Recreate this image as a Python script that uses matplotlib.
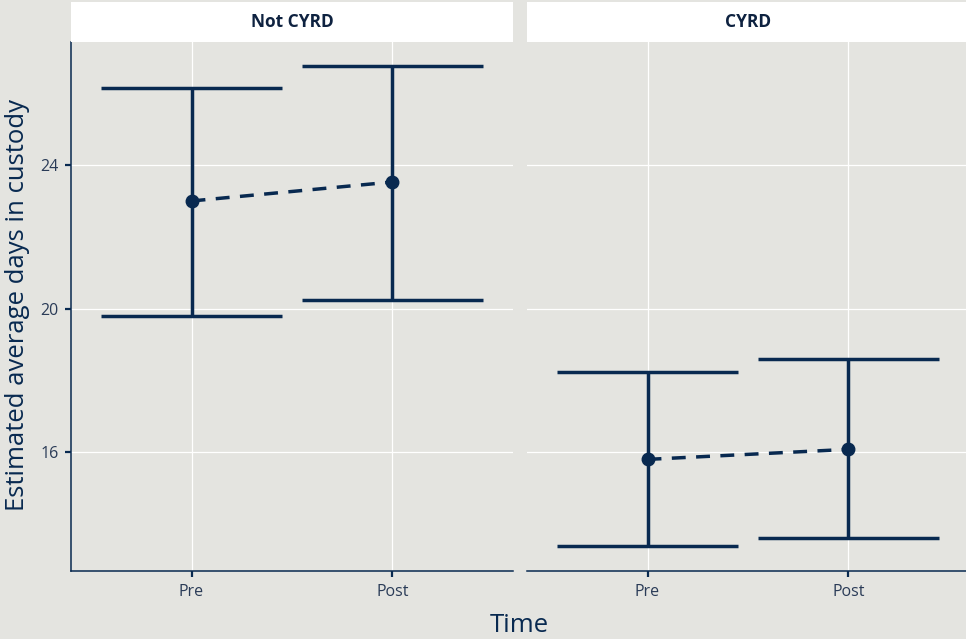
import matplotlib.pyplot as plt
from matplotlib.patches import Rectangle

# Estimated means with 95% intervals, by group and period
groups = ["Not CYRD", "CYRD"]
times = ["Pre", "Post"]
estimate = {"Not CYRD": [23.0, 23.53], "CYRD": [15.8, 16.08]}
lower = {"Not CYRD": [19.8, 20.25], "CYRD": [13.38, 13.6]}
upper = {"Not CYRD": [26.14, 26.76], "CYRD": [18.23, 18.59]}
yticks = [16, 20, 24]

navy = "#082950"
text_col = "#2A3B57"
panel_bg = "#E4E4E0"

plt.rcParams["font.family"] = ["Open Sans", "DejaVu Sans"]

fig = plt.figure(figsize=(9.66, 6.39), dpi=100)
fig.patch.set_facecolor(panel_bg)

W, H = 966, 639
panel_x = [71, 527]
panel_w = 442
top, bottom = 42, 571

for i, g in enumerate(groups):
    ax = fig.add_axes([panel_x[i] / W, (H - bottom) / H, panel_w / W, (bottom - top) / H])
    ax.set_facecolor(panel_bg)
    x = list(range(len(times)))

    # error bars with wide caps
    for xi, lo, hi in zip(x, lower[g], upper[g]):
        ax.plot([xi, xi], [lo, hi], color=navy, lw=2.5, solid_capstyle="butt", zorder=3)
        for yv in (lo, hi):
            ax.plot([xi - 0.45, xi + 0.45], [yv, yv], color=navy, lw=2.5,
                    solid_capstyle="butt", zorder=3)
    ax.plot(x, estimate[g], color=navy, lw=2.5, ls=(0, (4, 3)), zorder=3)
    ax.plot(x, estimate[g], "o", color=navy, ms=9, zorder=4)

    ax.set_xlim(-0.6, 1.6)
    ax.set_ylim(12.69, 27.43)
    ax.set_xticks(x)
    ax.set_xticklabels(times)
    ax.set_yticks(yticks)
    ax.grid(True, color="white", lw=0.9)
    ax.set_axisbelow(True)
    for s in ["top", "right"]:
        ax.spines[s].set_visible(False)
    ax.spines["bottom"].set_color(navy)
    ax.spines["bottom"].set_linewidth(1.1)
    ax.tick_params(axis="both", colors=navy, labelcolor=text_col, labelsize=11.5,
                   length=4, width=1.6, pad=5)
    if i == 0:
        ax.spines["left"].set_color(navy)
        ax.spines["left"].set_linewidth(1.1)
    else:
        ax.spines["left"].set_visible(False)
        ax.tick_params(axis="y", left=False, labelleft=False)

    # facet strip
    fig.patches.append(Rectangle((panel_x[i] / W, (H - top) / H), panel_w / W, 40 / H,
                                 transform=fig.transFigure, facecolor="white",
                                 edgecolor="none"))
    fig.text((panel_x[i] + panel_w / 2) / W, (H - 22) / H, g, ha="center", va="center",
             fontsize=12.5, fontweight="bold", color="#0E2240")

fig.text(18 / W, (H - 305) / H, "Estimated average days in custody", rotation=90,
         ha="center", va="center", fontsize=18.5, color=navy)
fig.text(519 / W, (H - 626) / H, "Time", ha="center", va="center", fontsize=18.5,
         color=navy)

fig.savefig("out.png", dpi=100, facecolor=fig.get_facecolor())
